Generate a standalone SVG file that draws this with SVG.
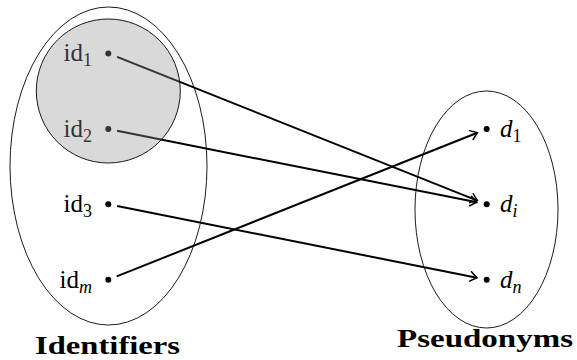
<svg xmlns="http://www.w3.org/2000/svg" width="577" height="360" viewBox="0 0 577 360">
<style>
.set{fill:none;stroke:#000;stroke-width:0.9}
.dot{fill:#000}
.lbl{font-family:'Liberation Serif','DejaVu Serif',serif;font-size:25px;fill:#000}
.it{font-style:italic}
.sub{font-size:18px}
.title{font-family:'Liberation Serif','DejaVu Serif',serif;font-size:25px;font-weight:bold;fill:#000}
.conn{stroke:#000;stroke-width:2;fill:none;marker-end:url(#arr)}
</style>
<defs>
<marker id="arr" viewBox="-8 -6 10 12" markerWidth="10" markerHeight="12" refX="0" refY="0" orient="auto" markerUnits="userSpaceOnUse">
<path d="M-6.5,-4.8 Q-2,-1.3 0,0 Q-2,1.3 -6.5,4.8" fill="none" stroke="#000" stroke-width="1.5" stroke-linecap="round"/>
</marker>
</defs>
<rect width="577" height="360" fill="#fff"/>
<g id="identifiers-set">
<ellipse class="set" cx="108.5" cy="166" rx="98.5" ry="159"/>
<text class="title" x="35" y="354" textLength="145" lengthAdjust="spacingAndGlyphs">Identifiers</text>
</g>
<g id="pseudonyms-set">
<ellipse class="set" cx="486.5" cy="209.5" rx="71.5" ry="118.5"/>
<text class="title" x="397" y="347" textLength="176" lengthAdjust="spacingAndGlyphs">Pseudonyms</text>
</g>
<g id="id1"><circle class="dot" cx="108.3" cy="53.5" r="3"/><text class="lbl" x="92" y="61" text-anchor="end">id<tspan class="sub" dy="5">1</tspan></text></g>
<g id="id2"><circle class="dot" cx="108.3" cy="129" r="3"/><text class="lbl" x="92" y="136.5" text-anchor="end">id<tspan class="sub" dy="5">2</tspan></text></g>
<g id="id3"><circle class="dot" cx="108.3" cy="204.3" r="3"/><text class="lbl" x="92" y="212" text-anchor="end">id<tspan class="sub" dy="5">3</tspan></text></g>
<g id="idm"><circle class="dot" cx="108.3" cy="279.7" r="3"/><text class="lbl" x="92" y="287.5" text-anchor="end">id<tspan class="sub it" dy="5">m</tspan></text></g>
<g id="d1"><circle class="dot" cx="486.7" cy="129" r="3"/><text class="lbl" x="500" y="136.5"><tspan class="it">d</tspan><tspan class="sub" dy="5">1</tspan></text></g>
<g id="di"><circle class="dot" cx="486.7" cy="204.3" r="3"/><text class="lbl" x="500" y="212"><tspan class="it">d</tspan><tspan class="sub it" dy="5">i</tspan></text></g>
<g id="dn"><circle class="dot" cx="486.7" cy="279.7" r="3"/><text class="lbl" x="500" y="287.5"><tspan class="it">d</tspan><tspan class="sub it" dy="5">n</tspan></text></g>
<g id="connectors">
<line class="conn" x1="117.1" y1="56.9" x2="477.4" y2="200.6"/>
<line class="conn" x1="117.1" y1="130.8" x2="476.9" y2="202.3"/>
<line class="conn" x1="117.1" y1="206.1" x2="476.9" y2="277.7"/>
<line class="conn" x1="116.7" y1="276.4" x2="477.4" y2="132.7"/>
</g>
<g id="group-1-2">
<circle cx="108.3" cy="91" r="72" fill="#929292" fill-opacity="0.35" stroke="#000" stroke-width="0.9"/>
</g>
</svg>
